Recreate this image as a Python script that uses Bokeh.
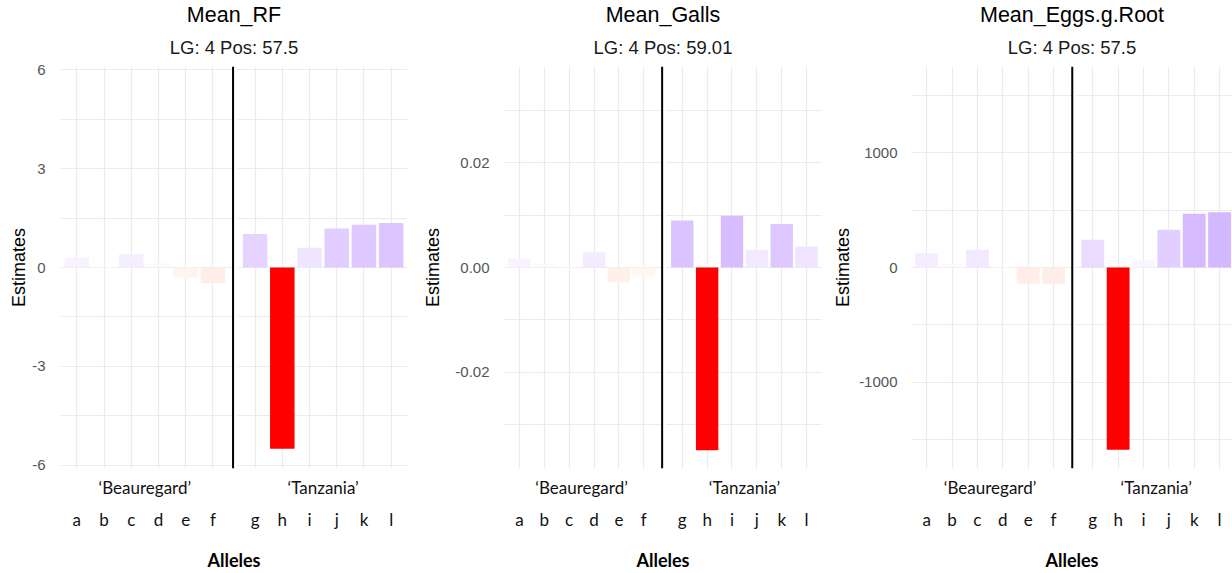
import numpy as np
from bokeh.plotting import figure
from bokeh.layouts import row
from bokeh.models import (FixedTicker, LinearAxis, Title, Span, BoxAnnotation,
                          NumeralTickFormatter, ColumnDataSource)
from bokeh.embed import file_html
from bokeh.resources import INLINE

# ---------------- data ----------------
alleles = ["a", "b", "c", "d", "e", "f", "g", "h", "i", "j", "k", "l"]
groups = ["\u2018Beauregard\u2019", "\u2018Tanzania\u2019"]
titles = ["Mean_RF", "Mean_Galls", "Mean_Eggs.g.Root"]
subtitles = ["LG: 4 Pos: 57.5", "LG: 4 Pos: 59.01", "LG: 4 Pos: 57.5"]

mean_rf = [0.30, 0.02, 0.40, 0.14, -0.31, -0.48, 1.02, -5.50, 0.60, 1.18, 1.30, 1.35]
mean_galls = [0.0017, 0.0007, 0.0002, 0.0029, -0.0028, -0.0017,
              0.0090, -0.0349, 0.0099, 0.0034, 0.0083, 0.0040]
mean_eggs = [125, 32, 155, 5, -142, -142, 242, -1591, 61, 329, 469, 483]

rf_ticks = [-6, -3, 0, 3, 6]
rf_minor = [-4.5, -1.5, 1.5, 4.5]
galls_ticks = [-0.02, 0.0, 0.02]
galls_minor = [-0.03, -0.01, 0.01, 0.03]
eggs_ticks = [-1000, 0, 1000]
eggs_minor = [-1500, -500, 500, 1500]

# ---------------- colour scale (gradient2 red-white-blue in Lab) ----------------
_M = np.array([[0.4124, 0.3576, 0.1805],
               [0.2126, 0.7152, 0.0722],
               [0.0193, 0.1192, 0.9505]])
_W = np.array([0.95047, 1.0, 1.08883])


def _to_lin(c):
    c = np.asarray(c, float) / 255.0
    return np.where(c <= 0.04045, c / 12.92, ((c + 0.055) / 1.055) ** 2.4)


def _to_srgb(c):
    c = np.clip(c, 0, 1)
    return np.where(c <= 0.0031308, 12.92 * c, 1.055 * c ** (1 / 2.4) - 0.055) * 255


def rgb_to_lab(rgb):
    xyz = _M @ _to_lin(rgb) / _W
    d = 6 / 29
    f = np.where(xyz > d ** 3, np.cbrt(xyz), xyz / (3 * d * d) + 4 / 29)
    return np.array([116 * f[1] - 16, 500 * (f[0] - f[1]), 200 * (f[1] - f[2])])


def lab_to_hex(lab):
    L, a, b = lab
    fy = (L + 16) / 116
    f = np.array([fy + a / 500, fy, fy - b / 200])
    d = 6 / 29
    xyz = np.where(f > d, f ** 3, 3 * d * d * (f - 4 / 29)) * _W
    rgb = _to_srgb(np.linalg.inv(_M) @ xyz)
    r, g, b2 = [int(round(float(v))) for v in rgb]
    return "#%02x%02x%02x" % (r, g, b2)


LAB_LOW = rgb_to_lab([255, 0, 0])
LAB_MID = rgb_to_lab([255, 255, 255])
LAB_HIGH = rgb_to_lab([0, 0, 255])


def fills(vals):
    v = np.asarray(vals, float)
    m = np.abs(v).max()
    out = []
    for t in v / m:
        end = LAB_HIGH if t >= 0 else LAB_LOW
        out.append(lab_to_hex(LAB_MID + abs(t) * (end - LAB_MID)))
    return out


# ---------------- layout helpers ----------------
GAP = 0.55
xpos = [i + 1.0 for i in range(6)] + [i + 1.0 + GAP for i in range(6, 12)]
centers = [float(np.mean(xpos[:6])), float(np.mean(xpos[6:]))]

SANS = "Liberation Sans"
CAL = "Lato"
GRID = "#EBEBEB"


def panel(title, subtitle, vals, ticks, minor, fmt, width, bl, br, yr, x_end,
          tick_sd, lab_sd):
    p = figure(width=width, height=573, x_range=(0.4, x_end), y_range=yr,
               output_backend="svg", toolbar_location=None, title=None,
               min_border_left=bl, min_border_right=br, min_border_top=65,
               min_border_bottom=105)
    p.outline_line_color = None
    p.background_fill_color = "white"
    p.border_fill_color = "white"

    # titles
    p.add_layout(Title(text=subtitle, align="center", text_font=SANS,
                       text_font_size="18.5px", text_font_style="normal",
                       text_color="#1a1a1a", standoff=17), "above")
    p.add_layout(Title(text=title, align="center", text_font=SANS,
                       text_font_size="21.5px", text_font_style="normal",
                       text_color="#000000", standoff=0), "above")

    # grids
    p.xgrid.ticker = FixedTicker(ticks=xpos)
    p.xgrid.grid_line_color = GRID
    p.xgrid.grid_line_width = 1.2
    p.yaxis.ticker = FixedTicker(ticks=ticks, minor_ticks=minor)
    p.ygrid.grid_line_color = GRID
    p.ygrid.grid_line_width = 1.2
    p.ygrid.minor_grid_line_color = GRID
    p.ygrid.minor_grid_line_width = 1.0

    # y axis
    ya = p.yaxis[0]
    ya.formatter = NumeralTickFormatter(format=fmt)
    ya.axis_label = "Estimates"
    ya.axis_label_text_font = SANS
    ya.axis_label_text_font_size = "18px"
    ya.axis_label_text_font_style = "normal"
    ya.axis_label_text_color = "#000000"
    ya.axis_label_standoff = lab_sd
    ya.major_label_text_font = SANS
    ya.major_label_text_font_size = "15px"
    ya.major_label_text_color = "#555555"
    ya.major_label_standoff = tick_sd
    ya.axis_line_color = None
    ya.major_tick_line_color = None
    ya.minor_tick_line_color = None

    # group-label axis (closest to plot)
    ga = p.xaxis[0]
    ga.ticker = FixedTicker(ticks=centers)
    ga.major_label_overrides = {centers[0]: groups[0], centers[1]: groups[1]}
    ga.major_label_text_font = CAL
    ga.major_label_text_font_size = "17px"
    ga.major_label_text_color = "#111111"
    ga.major_label_standoff = 2
    ga.axis_line_color = None
    ga.major_tick_line_color = None
    ga.minor_tick_line_color = None

    # allele axis
    la = LinearAxis(ticker=FixedTicker(ticks=xpos),
                    major_label_overrides=dict(zip(xpos, alleles)))
    la.major_label_text_font = CAL
    la.major_label_text_font_size = "17px"
    la.major_label_text_color = "#111111"
    la.major_label_standoff = 2
    la.axis_line_color = None
    la.major_tick_line_color = None
    la.minor_tick_line_color = None
    la.axis_label = "Alleles"
    la.axis_label_text_font = CAL
    la.axis_label_text_font_size = "18px"
    la.axis_label_text_font_style = "bold"
    la.axis_label_text_color = "#000000"
    la.axis_label_standoff = 16
    p.add_layout(la, "below")

    # bars
    src = ColumnDataSource(dict(x=xpos, top=vals, fill=fills(vals)))
    p.vbar(x="x", top="top", bottom=0, width=0.9, source=src,
           fill_color="fill", line_color=None)

    # facet gap and separating line
    p.add_layout(BoxAnnotation(left=6.72, right=6.90, fill_color="white",
                               fill_alpha=1.0, line_color=None))
    p.add_layout(Span(location=6.74, dimension="height", line_color="black",
                      line_width=2))
    return p


p1 = panel(titles[0], subtitles[0], mean_rf, rf_ticks, rf_minor, "0",
           420, 60, 13, (-6.1, 6.1), 13.15, 9, 0)
p2 = panel(titles[1], subtitles[1], mean_galls, galls_ticks, galls_minor, "0.00",
           410, 74, 9, (-0.0384, 0.0384), 13.15, 9, 9)
p3 = panel(titles[2], subtitles[2], mean_eggs, eggs_ticks, eggs_minor, "0",
           402, 81, 0, (-1755, 1755), 13.06, 8, 3)

layout = row(p1, p2, p3)
open("out.html", "w").write(file_html(layout, INLINE))
